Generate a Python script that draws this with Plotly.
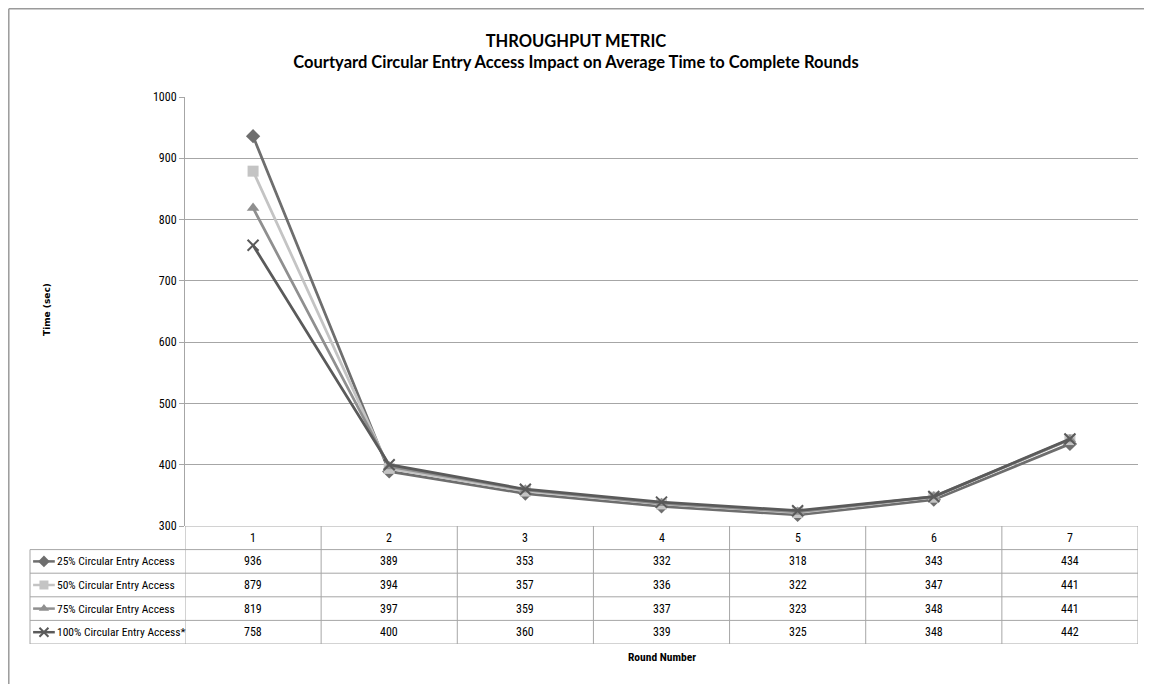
import plotly.graph_objects as go

rounds = [1, 2, 3, 4, 5, 6, 7]
series_names = ["25% Circular Entry Access", "50% Circular Entry Access",
                "75% Circular Entry Access", "100% Circular Entry Access*"]
s25 = [936, 389, 353, 332, 318, 343, 434]
s50 = [879, 394, 357, 336, 322, 347, 441]
s75 = [819, 397, 359, 337, 323, 348, 441]
s100 = [758, 400, 360, 339, 325, 348, 442]
y_ticks = [300, 400, 500, 600, 700, 800, 900, 1000]

series_values = [s25, s50, s75, s100]
colors = ["#6e6e6e", "#c4c4c4", "#8f8f8f", "#5a5a5a"]
symbols = ["diamond", "square", "triangle-up", "x-thin"]

FONT = "Liberation Sans Narrow, Roboto Condensed, Arial Narrow, Liberation Sans, sans-serif"
TFONT = "Lato, Open Sans, sans-serif"
GRID = "#a6a6a6"

# page body has an 8px margin; work in page pixels and subtract it
OFF = 8
W, H = 1152 - OFF, 684 - OFF
ML = 30 - OFF
MT = 97 - OFF
MR = W - (1138 - OFF)
MB = H - (644 - OFF)
PW = W - ML - MR
PH = H - MT - MB
plot_left = (185 - 30) / PW
table_frac = (644 - 526) / PH


def px_x(p):
    return (p - OFF - ML) / PW


def px_y(p):
    return (H - MB - (p - OFF)) / PH


fig = go.Figure()

for name, vals, c, s in zip(series_names, series_values, colors, symbols):
    fig.add_trace(go.Scatter(
        x=rounds, y=vals, mode="lines+markers", name=name,
        line=dict(color=c, width=2.75),
        marker=dict(symbol=s, size=11, color=c,
                    line=dict(color=c, width=2) if s == "x-thin" else dict(width=0)),
        showlegend=False, xaxis="x", yaxis="y"))

# legend keys in table label column (x3 axis over label column, y2 table rows)
for i, (c, s) in enumerate(zip(colors, symbols)):
    row = i + 1
    fig.add_trace(go.Scatter(
        x=[0.02, 0.09, 0.16], y=[row, row, row], mode="lines",
        line=dict(color=c, width=2.5), showlegend=False, hoverinfo="skip",
        xaxis="x3", yaxis="y2"))
    fig.add_trace(go.Scatter(
        x=[0.09], y=[row], mode="markers",
        marker=dict(symbol=s, size=9, color=c,
                    line=dict(color=c, width=2) if s == "x-thin" else dict(width=0)),
        showlegend=False, hoverinfo="skip", xaxis="x3", yaxis="y2"))

shapes = []
line_style = dict(color=GRID, width=1)
for k in range(6):
    yb = k - 0.5
    x0 = 0 if k >= 1 else plot_left
    shapes.append(dict(type="line", xref="paper", yref="y2", x0=x0, x1=1,
                       y0=yb, y1=yb, line=line_style))
for j in range(len(rounds) + 1):
    xb = 0.5 + j
    shapes.append(dict(type="line", xref="x", yref="y2", x0=xb, x1=xb,
                       y0=-0.5, y1=4.5, line=line_style))
shapes.append(dict(type="line", xref="paper", yref="y2", x0=0, x1=0,
                   y0=0.5, y1=4.5, line=line_style))
# chart outer border (top & left)
shapes.append(dict(type="line", xref="paper", yref="paper",
                   x0=px_x(8.8), x1=px_x(1160), y0=px_y(8.8), y1=px_y(8.8),
                   line=dict(color="#9a9a9a", width=1.5)))
shapes.append(dict(type="line", xref="paper", yref="paper",
                   x0=px_x(8.8), x1=px_x(8.8), y0=px_y(8.8), y1=px_y(700),
                   line=dict(color="#9a9a9a", width=1.5)))

annotations = []
cell_font = dict(size=12, color="#000", family=FONT)
for r in rounds:
    annotations.append(dict(x=r, y=0, xref="x", yref="y2", text=str(r),
                            showarrow=False, font=cell_font))
for i, vals in enumerate(series_values):
    for r, v in zip(rounds, vals):
        annotations.append(dict(x=r, y=i + 1, xref="x", yref="y2", text=str(v),
                                showarrow=False, font=cell_font))
    annotations.append(dict(x=0.16, y=i + 1, xref="x3", yref="y2", text=series_names[i],
                            xanchor="left", showarrow=False,
                            font=dict(size=11.5, color="#000", family=FONT)))

annotations.append(dict(x=plot_left + (1 - plot_left) / 2, y=4.5, xref="paper", yref="y2",
                        text="<b>Round Number</b>", showarrow=False, yanchor="top", yshift=-4,
                        font=dict(size=11.5, color="#000", family=FONT)))
annotations.append(dict(x=px_x(40), y=px_y(310), xref="paper", yref="paper",
                        text="<b>Time (sec)</b>", textangle=-90, showarrow=False,
                        font=dict(size=9, color="#000", family="DejaVu Sans, Verdana, sans-serif")))

fig.update_layout(
    width=W, height=H,
    margin=dict(l=ML, r=MR, t=MT, b=MB),
    paper_bgcolor="white", plot_bgcolor="white",
    title=dict(text="<b>THROUGHPUT METRIC<br>Courtyard Circular Entry Access Impact on Average Time to Complete Rounds</b>",
               x=(576 - OFF) / W, xref="container", xanchor="center",
               y=1 - (47 - OFF) / H, yref="container", yanchor="middle",
               font=dict(size=16.5, color="#000", family=TFONT)),
    xaxis=dict(domain=[plot_left, 1], range=[0.5, 7.5], showticklabels=False,
               showgrid=False, zeroline=False, showline=False, ticks="",
               anchor="y", fixedrange=True),
    yaxis=dict(domain=[table_frac, 1], range=[300, 1000], tickvals=y_ticks,
               showgrid=True, gridcolor=GRID, gridwidth=1, zeroline=False,
               showline=True, linecolor=GRID, linewidth=1, ticks="outside",
               ticklen=5, tickcolor=GRID,
               tickfont=dict(size=12, color="#000", family=FONT), anchor="x"),
    yaxis2=dict(domain=[0, table_frac], range=[4.5, -0.5], visible=False,
                anchor="x", fixedrange=True),
    xaxis3=dict(domain=[0, plot_left], range=[0, 1], visible=False, anchor="y2"),
    shapes=shapes, annotations=annotations,
    showlegend=False,
)

fig.write_html("out.html")
